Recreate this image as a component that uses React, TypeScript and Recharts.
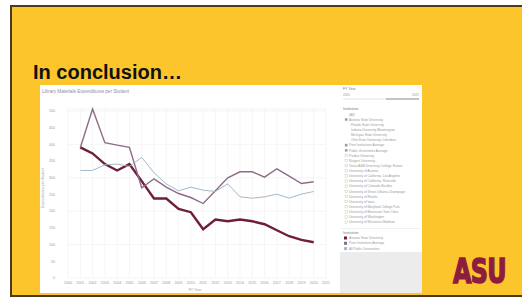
import { CartesianGrid, Line, LineChart, XAxis, YAxis } from "recharts";

const YEARS = [
  "2000", "2001", "2002", "2003", "2004", "2005", "2006", "2007", "2008", "2009", "2010",
  "2011", "2012", "2013", "2014", "2015", "2016", "2017", "2018", "2019", "2020", "2021",
];

// expenditures per student
const ASU = [null, 391, 373, 341, 322, 341, 290, 238, 238, 207, 197, 146, 175, 170, 175, 170, 161, 143, 125, 114, 107, null];
const PEERS = [null, 390, 506, 405, 398, 391, 270, 297, 272, 253, 241, 223, 261, 300, 318, 318, 302, 327, 305, 283, 288, null];
const PUBLICS = [null, 322, 322, 339, 341, 334, 361, 315, 282, 261, 272, 263, 259, 282, 243, 239, 243, 251, 239, 251, 259, null];

const Y_TICKS = [0, 50, 100, 150, 200, 250, 300, 350, 400, 450, 500];

const SERIES = [
  { key: "Arizona State University", values: ASU, color: "#6f1d3b", width: 2.4 },
  { key: "Peer Institutions Average", values: PEERS, color: "#8c6c86", width: 1.4 },
  { key: "All Public Universities", values: PUBLICS, color: "#a3b8c9", width: 1 },
];

const INSTITUTIONS = [
  "(All)",
  "Arizona State University",
  "Florida State University",
  "Indiana University Bloomington",
  "Michigan State University",
  "Ohio State University Columbus",
  "Peer Institutions Average",
  "Public Universities Average",
  "Purdue University",
  "Rutgers University",
  "Texas A&M University College Station",
  "University of Arizona",
  "University of California, Los Angeles",
  "University of California, Riverside",
  "University of Colorado Boulder",
  "University of Illinois Urbana-Champaign",
  "University of Florida",
  "University of Iowa",
  "University of Maryland College Park",
  "University of Minnesota Twin Cities",
  "University of Washington",
  "University of Wisconsin-Madison",
];
const CHECKED = [1, 6, 7];

const GOLD = "#fdc52c";
const MAROON = "#8c1d40";

export default function App() {
  const data = YEARS.map((y, i) => {
    const row: Record<string, string | number | null> = { year: y };
    SERIES.forEach((s) => (row[s.key] = s.values[i]));
    return row;
  });

  return (
    <div
      style={{
        position: "fixed",
        left: 0,
        top: 0,
        width: 522,
        height: 298,
        background: "#ffffff",
        overflow: "hidden",
        fontFamily: "'Liberation Sans', Arial, sans-serif",
      }}
    >
      {/* slide */}
      <div
        style={{
          position: "absolute",
          left: 10,
          top: 5,
          width: 540,
          height: 292,
          background: GOLD,
          border: "2px solid #4b3b1e",
          boxSizing: "border-box",
        }}
      />
      <div
        style={{
          position: "absolute",
          left: 33,
          top: 62,
          fontSize: 20,
          lineHeight: "20px",
          fontWeight: 700,
          color: "#111",
          whiteSpace: "nowrap",
        }}
      >
        In conclusion…
      </div>

      {/* dashboard panel */}
      <div style={{ position: "absolute", left: 40, top: 85, width: 382, height: 208, background: "#ffffff" }} />

      <div style={{ position: "absolute", left: 40, top: 85 }}>
        <LineChart width={298} height={208} data={data} margin={{ top: 24, right: 12, left: 8, bottom: 0 }}>
          <CartesianGrid stroke="#efefef" strokeWidth={0.6} />
          <XAxis
            dataKey="year"
            interval={0}
            height={15}
            axisLine={false}
            tickLine={false}
            tickSize={0}
            tickMargin={3}
            tick={{ fontSize: 3.6, fill: "#9a9a9a" }}
          />
          <YAxis
            domain={[0, 500]}
            ticks={Y_TICKS}
            width={20}
            axisLine={false}
            tickLine={false}
            tickSize={0}
            tickMargin={13}
            tick={{ fontSize: 3.6, fill: "#9a9a9a" }}
          />
          {SERIES.map((s) => (
            <Line
              key={s.key}
              dataKey={s.key}
              stroke={s.color}
              strokeWidth={s.width}
              dot={false}
              isAnimationActive={false}
            />
          ))}
        </LineChart>
      </div>

      {/* decorations: titles, filter panel, logo */}
      <svg width={522} height={298} style={{ position: "absolute", left: 0, top: 0, pointerEvents: "none" }}>
        <text x={42} y={93} fontSize={4.6} fill="#8f8aa8">
          Library Materials Expenditures per Student
        </text>
        <text x={44} y={188} fontSize={3.6} fill="#9a9a9a" textAnchor="middle" transform="rotate(-90 44 188)">
          Expenditures per Student
        </text>
        <text x={195} y={291} fontSize={3.6} fill="#9a9a9a" textAnchor="middle">
          FY Year
        </text>

        {/* filter panel */}
        <rect x={340} y={252} width={82} height={41} fill="#ececec" />
        <text x={343} y={90} fontSize={3.6} fill="#777">FY Year</text>
        <text x={343} y={96} fontSize={3.2} fill="#999">2001</text>
        <text x={419} y={96} fontSize={3.2} fill="#999" textAnchor="end">2021</text>
        <line x1={343} x2={386} y1={99} y2={99} stroke="#dddddd" strokeWidth={0.8} />
        <line x1={386} x2={419} y1={99} y2={99} stroke="#888888" strokeWidth={1.2} />

        <text x={343} y={110} fontSize={3.6} fill="#777">Institution</text>
        {INSTITUTIONS.map((name, i) => {
          const y = 115 + i * 5.13;
          const plain = i >= 2 && i <= 5;
          const checked = CHECKED.includes(i);
          return (
            <g key={name}>
              {!plain && i > 0 && (
                <rect
                  x={345}
                  y={y - 1.8}
                  width={2.4}
                  height={2.4}
                  fill={checked ? "#9a9a9a" : "#ffffff"}
                  stroke="#b8b8b8"
                  strokeWidth={0.4}
                />
              )}
              <text x={i === 0 ? 349 : plain ? 351 : 349} y={y + 0.6} fontSize={3.2} fill="#9a9a9a">
                {name}
              </text>
            </g>
          );
        })}
        <line x1={341} x2={420} y1={228.5} y2={228.5} stroke="#e6e6e6" strokeWidth={0.6} />

        <text x={343} y={234} fontSize={3.6} fill="#777">Institution</text>
        {SERIES.map((s, i) => {
          const y = 238.5 + i * 5.3;
          return (
            <g key={s.key}>
              <rect x={344} y={y - 2} width={3} height={3} fill={s.color} />
              <text x={349} y={y + 0.6} fontSize={3.2} fill="#9a9a9a">
                {s.key}
              </text>
            </g>
          );
        })}

        {/* ASU logo */}
        <g transform="translate(453 283) scale(0.7 1)">
          <text
            x={0}
            y={0}
            fontSize={34}
            fontWeight={700}
            fill={MAROON}
            stroke={MAROON}
            strokeWidth={1.6}
            letterSpacing={-1}
            fontFamily="'DejaVu Sans', sans-serif"
          >
            ASU
          </text>
        </g>
      </svg>
    </div>
  );
}
